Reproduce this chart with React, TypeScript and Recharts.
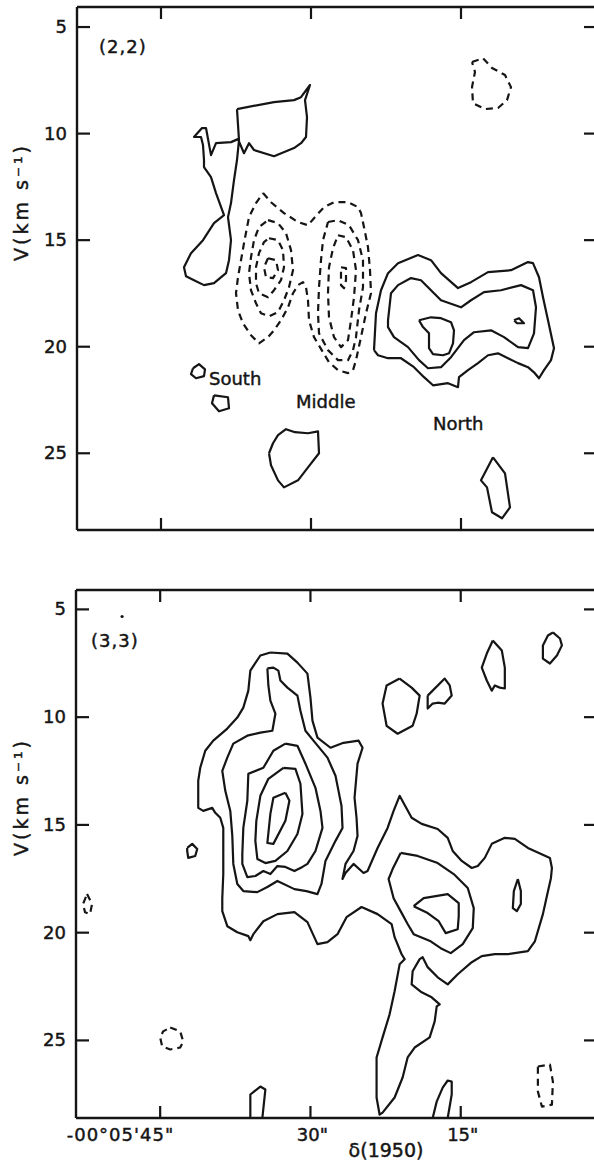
import React from "react";
import { LineChart, Line, XAxis, YAxis, ReferenceDot } from "recharts";

// contour paths: [offset in arcsec from -00°05', velocity km/s]
// ---- upper panel (2,2) ----
const southFanA = [
  [37.4, 8.85], [37.2, 10.31], [37.4, 11.24], [37.7, 12.18], [38.0, 13.26], [38.3, 13.92], [38.0, 15.0],
  [38.2, 15.94], [38.5, 16.55], [39.7, 17.02], [40.7, 17.11], [41.7, 16.88], [42.5, 16.69], [42.7, 16.27],
  [42.0, 15.61], [40.8, 15.0], [39.7, 14.2], [38.7, 13.83], [39.5, 12.79], [40.0, 12.04], [40.7, 11.57],
  [40.7, 11.24], [40.8, 10.54], [41.0, 10.16], [41.7, 10.16], [40.9, 9.74], [40.5, 9.74], [40.0, 11.01],
  [39.5, 10.45], [38.0, 10.4], [37.3, 10.26], [36.7, 10.92], [36.2, 10.45], [35.7, 10.77], [33.7, 11.06],
  [31.7, 10.68], [31.0, 10.45], [30.5, 10.16], [30.4, 9.23], [30.6, 8.43], [30.1, 7.72], [31.0, 8.29],
  [31.7, 8.43], [33.7, 8.52], [37.4, 8.85],
];
const southDotA1 = [[41.8, 21.01], [41.2, 20.82], [40.6, 21.06], [40.7, 21.38], [41.5, 21.48], [42.0, 21.29], [41.8, 21.01]];
const southDotA2 = [[39.7, 22.28], [38.3, 22.37], [38.2, 22.89], [39.2, 23.03], [39.9, 22.65], [39.7, 22.28]];
const middleLowA = [
  [34.2, 25.0], [33.8, 24.53], [33.3, 24.15], [32.5, 23.87], [31.6, 24.01], [30.3, 24.06], [29.3, 23.97],
  [29.2, 25.0], [30.3, 25.66], [31.3, 26.27], [32.7, 26.6], [33.3, 26.27], [34.0, 25.56], [34.2, 25.0],
];
const northLowA = [[11.8, 25.19], [10.6, 25.94], [10.1, 27.54], [10.9, 28.05], [11.9, 27.77], [12.4, 26.6], [13.0, 26.27], [11.8, 25.19]];
const negNE_A = [
  [13.9, 6.64], [12.8, 6.46], [11.9, 6.92], [10.6, 7.25], [10.0, 7.82], [10.4, 8.43], [11.3, 8.8],
  [12.6, 8.85], [13.8, 8.57], [13.9, 7.82], [13.6, 7.11], [13.9, 6.64],
];
const northOuterA = [
  [23.7, 20.16], [23.5, 18.43], [23.0, 17.35], [22.3, 16.55], [21.3, 16.08], [19.3, 15.7], [18.0, 15.94],
  [17.0, 16.55], [15.3, 17.25], [14.0, 16.97], [12.3, 16.5], [10.0, 16.41], [8.3, 16.03], [7.8, 16.08],
  [7.2, 16.74], [6.8, 17.68], [6.3, 18.76], [5.7, 20.07], [6.0, 20.63], [6.7, 21.1], [7.2, 21.48],
  [7.7, 21.2], [8.3, 20.96], [9.3, 20.77], [10.3, 20.54], [11.3, 20.31], [12.3, 20.4], [13.3, 20.77],
  [14.3, 21.1], [15.2, 21.43], [15.3, 21.9], [16.3, 21.71], [17.8, 21.81], [18.7, 21.43], [19.7, 20.96],
  [21.0, 20.54], [22.3, 20.54], [23.3, 20.4], [23.7, 20.16],
];
const northMidA = [
  [22.3, 18.76], [22.0, 17.49], [21.3, 17.11], [20.0, 16.78], [19.0, 16.88], [18.0, 17.35], [17.0, 17.82],
  [15.0, 18.15], [14.0, 17.82], [12.7, 17.44], [11.0, 17.35], [9.0, 17.11], [7.8, 17.35], [7.5, 18.15],
  [7.7, 19.37], [8.3, 20.07], [9.3, 20.02], [10.7, 19.55], [12.0, 19.23], [13.7, 19.32], [14.7, 19.69],
  [16.0, 20.49], [17.0, 20.96], [18.3, 21.01], [19.2, 20.63], [20.3, 20.02], [21.7, 19.55], [22.3, 19.08],
  [22.3, 18.76],
];
const northInnerA = [
  [19.2, 18.76], [18.0, 18.62], [17.0, 18.66], [16.0, 18.85], [15.7, 19.23], [15.8, 19.84], [16.2, 20.31],
  [16.8, 20.4], [17.8, 20.35], [18.2, 20.07], [18.2, 19.37], [18.8, 19.08], [19.2, 18.76],
];
const northPeakA = [[9.7, 18.76], [9.2, 18.66], [8.7, 18.9], [9.4, 18.9], [9.7, 18.76]];
const negOuterA = [
  [34.8, 12.79], [34.0, 13.22], [32.7, 13.73], [31.3, 14.15], [30.3, 14.3], [29.7, 13.97], [28.7, 13.45],
  [27.7, 13.22], [26.3, 13.22], [25.3, 13.45], [25.0, 13.73], [24.7, 14.39], [24.3, 15.33], [24.1, 16.41],
  [24.0, 17.49], [24.5, 18.43], [25.0, 19.55], [25.5, 20.63], [25.8, 21.1], [26.3, 21.24], [27.3, 21.1],
  [28.2, 20.73], [28.8, 20.26], [29.7, 19.55], [30.2, 18.76], [30.3, 17.82], [30.5, 17.21], [30.8, 16.97],
  [31.3, 17.11], [31.8, 17.49], [32.3, 18.15], [33.0, 18.76], [33.7, 19.23], [34.3, 19.55], [35.2, 19.84],
  [36.0, 19.46], [36.8, 18.9], [37.3, 18.29], [37.5, 17.49], [37.3, 16.74], [37.0, 15.94], [36.7, 15.14],
  [36.2, 13.92], [35.5, 13.26], [34.8, 12.79],
];
const negSouth2A = [
  [34.3, 14.06], [33.3, 14.2], [32.5, 14.67], [32.0, 15.47], [31.8, 16.41], [32.2, 17.21], [32.7, 17.82],
  [33.3, 18.38], [34.2, 18.57], [35.0, 18.43], [35.5, 17.96], [36.0, 17.35], [36.2, 16.55], [36.0, 15.8],
  [35.7, 15.0], [35.2, 14.39], [34.3, 14.06],
];
const negSouth3A = [
  [34.2, 14.91], [33.3, 15.0], [32.8, 15.47], [32.7, 16.27], [33.0, 16.88], [33.7, 17.35], [34.3, 17.68],
  [35.2, 17.49], [35.5, 17.02], [35.5, 16.27], [35.2, 15.61], [34.7, 15.09], [34.2, 14.91],
];
const negSouth4A = [[34.3, 15.85], [33.5, 15.94], [33.3, 16.41], [33.8, 16.78], [34.5, 16.74], [34.7, 16.27], [34.3, 15.85]];
const negMiddle2A = [
  [28.3, 14.15], [27.3, 14.06], [26.2, 14.3], [25.3, 15.0], [24.8, 15.94], [24.8, 17.21], [25.2, 18.29],
  [25.5, 19.55], [25.8, 20.16], [26.3, 20.63], [27.3, 20.63], [28.3, 20.16], [29.2, 19.37], [29.3, 18.43],
  [29.2, 17.21], [29.0, 15.94], [28.8, 15.0], [28.3, 14.15],
];
const negMiddle3A = [
  [27.3, 14.77], [26.5, 14.86], [25.8, 15.47], [25.5, 16.41], [25.7, 17.68], [26.0, 18.76], [26.3, 19.69],
  [27.0, 20.02], [27.7, 19.55], [28.2, 18.62], [28.3, 17.49], [28.2, 16.27], [27.8, 15.38], [27.3, 14.77],
];
const negMiddle4A = [[27.0, 16.27], [26.5, 16.31], [26.5, 16.88], [26.7, 17.25], [27.0, 17.11], [27.0, 16.55], [27.0, 16.27]];

// ---- lower panel (3,3) ----
const outerB = [
  [34.0, 7.0], [32.3, 7.05], [31.3, 7.47], [30.3, 7.98], [30.0, 9.09], [29.8, 10.16], [29.3, 10.95],
  [28.0, 11.42], [26.7, 11.19], [25.2, 11.09], [24.8, 11.42], [25.3, 12.16], [25.6, 13.74], [25.4, 14.67],
  [25.3, 15.51], [25.7, 16.21], [26.5, 16.81], [26.8, 17.51], [26.5, 17.23], [25.7, 16.81], [24.7, 17.23],
  [24.3, 17.14], [23.3, 16.07], [22.3, 15.14], [21.7, 14.35], [21.1, 13.65], [19.9, 14.67], [18.9, 14.95],
  [17.3, 15.19], [16.3, 15.6], [15.8, 16.21], [14.9, 16.67], [13.9, 17.0], [13.3, 16.91], [12.6, 16.53],
  [11.9, 15.88], [10.6, 15.6], [9.6, 15.65], [8.3, 16.07], [6.1, 16.53], [5.9, 17.0], [6.0, 17.47],
  [6.4, 18.3], [6.8, 19.14], [7.6, 20.4], [8.3, 20.86], [10.3, 21.0], [11.6, 21.0], [12.9, 21.09],
  [13.9, 21.37], [15.3, 21.93], [16.3, 22.4], [17.3, 22.07], [18.3, 21.6], [18.8, 21.14], [19.1, 21.23],
  [19.8, 21.79], [19.9, 22.4], [18.9, 22.77], [17.9, 23.0], [17.1, 23.33], [17.4, 23.42], [17.6, 24.12],
  [18.1, 24.86], [19.6, 25.33], [20.3, 25.79], [20.8, 26.72], [21.6, 27.65], [22.8, 28.35], [23.1, 28.44],
  [23.4, 27.65], [23.4, 26.91], [23.4, 25.79], [22.8, 24.86], [22.1, 23.79], [21.6, 22.72], [21.1, 21.47],
  [20.6, 21.23], [20.9, 21.0], [21.6, 20.21], [21.9, 19.6], [23.3, 19.14], [24.9, 18.81], [26.4, 19.28],
  [27.3, 20.07], [28.3, 20.44], [29.3, 20.53], [30.3, 19.51], [31.6, 19.05], [33.3, 19.14], [34.7, 19.47],
  [35.7, 20.07], [36.0, 20.35], [36.2, 20.16], [37.3, 19.98], [38.3, 19.7], [38.8, 19.0], [38.8, 18.4],
  [38.7, 17.28], [38.7, 16.07], [38.7, 15.14], [39.0, 14.67], [39.5, 14.44], [39.8, 14.21], [40.7, 14.35],
  [41.2, 14.21], [41.2, 12.95], [41.0, 12.35], [40.5, 11.56], [39.7, 11.09], [38.3, 10.53], [37.3, 10.02],
  [36.7, 9.56], [36.2, 8.77], [36.0, 7.84], [35.0, 7.14], [34.0, 7.0],
];
const level2B = [
  [34.3, 7.74], [33.7, 7.7], [33.2, 7.84], [33.0, 8.3], [32.3, 8.63], [31.3, 9.0], [31.0, 9.7], [30.5, 10.63],
  [29.7, 11.09], [28.3, 11.88], [27.5, 12.72], [27.2, 13.42], [26.9, 14.12], [26.8, 15.14], [27.5, 15.74],
  [28.5, 16.67], [28.9, 17.74], [29.3, 18.21], [30.4, 18.07], [31.6, 17.98], [33.3, 17.6], [34.3, 17.88],
  [35.3, 18.12], [36.7, 18.07], [37.3, 17.74], [37.7, 16.81], [37.8, 15.51], [38.0, 14.35], [38.5, 13.42],
  [38.8, 12.49], [38.3, 11.88], [37.7, 11.23], [36.3, 10.86], [35.0, 10.72], [33.8, 10.63], [33.5, 9.84],
  [34.0, 9.23], [34.2, 8.53], [34.3, 7.74],
];
const level3B = [
  [32.5, 11.23], [31.3, 11.33], [30.5, 12.16], [29.5, 13.28], [29.0, 14.35], [28.8, 15.14], [29.5, 16.21],
  [30.3, 16.81], [30.8, 16.95], [31.6, 17.14], [32.5, 16.95], [33.3, 16.91], [34.0, 17.28], [34.7, 17.14],
  [35.5, 17.37], [36.3, 17.42], [36.8, 16.81], [36.8, 16.35], [36.7, 15.14], [36.3, 13.88], [36.2, 12.63],
  [34.7, 12.35], [33.7, 11.56], [32.5, 11.23],
];
const level4B = [
  [32.7, 12.35], [31.5, 12.4], [31.0, 13.09], [30.8, 14.49], [31.3, 15.42], [32.3, 16.21], [33.5, 16.67],
  [34.5, 16.77], [35.3, 16.58], [35.5, 15.74], [35.4, 14.81], [35.0, 13.65], [34.2, 12.86], [32.7, 12.35],
];
const level5B = [[32.5, 13.51], [32.1, 13.88], [32.5, 14.81], [33.7, 15.88], [34.3, 15.84], [34.0, 14.49], [33.7, 13.74], [32.5, 13.51]];
const northRingB = [
  [21.0, 16.3], [19.3, 16.44], [17.3, 16.77], [15.7, 17.28], [14.3, 17.93], [13.7, 18.86], [13.8, 19.79],
  [14.8, 20.53], [16.0, 20.95], [17.0, 20.72], [18.0, 20.4], [19.7, 20.07], [20.3, 19.6], [21.0, 19.0],
  [21.7, 18.4], [22.2, 17.51], [21.8, 17.05], [21.0, 16.3],
];
const northCoreB = [
  [19.7, 18.77], [18.7, 18.4], [16.3, 18.21], [15.2, 18.63], [15.2, 19.23], [15.3, 19.84], [16.5, 20.02],
  [17.2, 19.47], [18.3, 19.09], [19.7, 18.77],
];
const eastPeakB = [[9.3, 17.51], [9.0, 18.07], [9.0, 18.67], [9.4, 19.0], [9.8, 18.86], [9.7, 18.07], [9.3, 17.51]];
const cloudB1 = [[21.1, 8.21], [19.9, 8.63], [19.1, 9.0], [19.4, 9.84], [19.8, 10.4], [21.3, 10.77], [22.4, 10.4], [22.8, 9.37], [22.4, 8.53], [21.1, 8.21]];
const cloudB2 = [[18.3, 9.0], [16.6, 8.21], [16.1, 8.53], [15.9, 9.0], [16.6, 9.37], [17.3, 9.33], [17.8, 9.37], [18.3, 9.6], [18.3, 9.0]];
const cloudB3 = [[11.8, 6.44], [10.9, 6.91], [10.6, 7.7], [10.6, 8.67], [11.1, 8.63], [11.6, 8.53], [11.9, 8.77], [12.4, 8.3], [12.9, 7.7], [12.4, 7.05], [11.8, 6.44]];
const cloudB4 = [[5.8, 6.07], [5.1, 6.35], [4.9, 6.67], [5.4, 7.14], [6.1, 7.51], [6.8, 7.28], [6.8, 6.67], [6.3, 6.21], [5.8, 6.07]];
const westDotB = [[42.3, 16.07], [41.8, 15.88], [41.3, 16.12], [41.5, 16.44], [42.2, 16.53], [42.3, 16.21], [42.3, 16.07]];
const lowStubB = [[36.0, 28.6], [36.0, 27.51], [35.0, 27.14], [34.5, 27.28], [34.8, 28.6]];
const lowSpikeB = [[17.8, 28.6], [17.4, 27.84], [16.8, 27.19], [16.3, 26.86], [15.9, 26.91], [15.9, 27.51], [16.3, 28.6]];
const negWestB = [[52.3, 18.21], [51.8, 18.67], [52.0, 19.14], [52.5, 19.05], [52.7, 18.67], [52.3, 18.21]];
const negLowB = [[44.0, 24.4], [43.0, 24.58], [42.7, 25.05], [43.0, 25.33], [44.0, 25.42], [44.8, 25.28], [45.0, 24.86], [44.7, 24.58], [44.0, 24.4]];
const negEastB = [[7.3, 26.21], [6.1, 26.12], [5.8, 26.91], [5.9, 27.98], [6.9, 28.07], [7.3, 27.37], [7.3, 26.21]];
const markB = [48.8, 5.33];

const X_TICKS = [45, 30, 15];
const V_TICKS = [5, 10, 15, 20, 25];
const X_LABELS: Record<number, string> = { 45: "-00°05'45\"", 30: '30"', 15: '15"' };

const INK = "#151515";
const FONT = "'DejaVu Sans', sans-serif";
const X_DOMAIN: [number, number] = [1.4, 53.4];

type Contour = { pts: number[][]; dash?: boolean };
const rows = (pts: number[][]) => pts.map(([x, v]) => ({ x, v }));

const panelA: Contour[] = [
  { pts: southFanA }, { pts: southDotA1 }, { pts: southDotA2 }, { pts: middleLowA }, { pts: northLowA },
  { pts: northOuterA }, { pts: northMidA }, { pts: northInnerA }, { pts: northPeakA },
  { pts: negNE_A, dash: true }, { pts: negOuterA, dash: true }, { pts: negSouth2A, dash: true },
  { pts: negSouth3A, dash: true }, { pts: negSouth4A, dash: true }, { pts: negMiddle2A, dash: true },
  { pts: negMiddle3A, dash: true }, { pts: negMiddle4A, dash: true },
];
const panelB: Contour[] = [
  { pts: outerB }, { pts: level2B }, { pts: level3B }, { pts: level4B }, { pts: level5B },
  { pts: northRingB }, { pts: northCoreB }, { pts: eastPeakB }, { pts: cloudB1 }, { pts: cloudB2 },
  { pts: cloudB3 }, { pts: cloudB4 }, { pts: westDotB }, { pts: lowStubB }, { pts: lowSpikeB },
  { pts: negWestB, dash: true }, { pts: negLowB, dash: true }, { pts: negEastB, dash: true },
];

const axisLine = { stroke: INK, strokeWidth: 2.4 };
// a hair of stroke makes the type as heavy as the printed figure
const ink = { fontFamily: FONT, fill: INK, stroke: INK, strokeWidth: 0.45 };

function Panel(props: {
  contours: Contour[];
  vDomain: [number, number];
  height: number;
  bottomH: number;
  leftW: number;
  labelled: boolean;
  mark?: number[];
}) {
  const { contours, vDomain, height, bottomH, leftW, labelled, mark } = props;

  const leftTick = (p: any) => (
    <g>
      <line x1={p.x} x2={p.x + 13} y1={p.y} y2={p.y} stroke={INK} strokeWidth={2.2} />
      <text x={p.x - 10} y={p.y} dy={6} textAnchor="end" fontSize={18} {...ink}>
        {p.payload.value}
      </text>
    </g>
  );
  const rightTick = (p: any) => (
    <line x1={p.x} x2={p.x - 13} y1={p.y} y2={p.y} stroke={INK} strokeWidth={2.2} />
  );
  const topTick = (p: any) => (
    <line x1={p.x} x2={p.x} y1={p.y} y2={p.y + 12} stroke={INK} strokeWidth={2.2} />
  );
  const bottomTick = (p: any) => {
    const v = p.payload.value as number;
    return (
      <g>
        <line x1={p.x} x2={p.x} y1={p.y} y2={p.y - 12} stroke={INK} strokeWidth={2.2} />
        {labelled && (
          <text
            x={v === 45 ? p.x + 14 : p.x + 2}
            y={p.y + 23}
            textAnchor={v === 45 ? "end" : "middle"}
            fontSize={18}
            letterSpacing={v === 45 ? 1 : 0}
            {...ink}
          >
            {X_LABELS[v]}
          </text>
        )}
      </g>
    );
  };

  return (
    <LineChart width={620} height={height} margin={{ top: 0, right: 0, bottom: 0, left: 0 }}>
      <XAxis
        xAxisId="b"
        dataKey="x"
        type="number"
        domain={X_DOMAIN}
        reversed
        allowDataOverflow
        ticks={X_TICKS}
        interval={0}
        height={bottomH}
        tickSize={0}
        tickMargin={0}
        tickLine={false}
        axisLine={axisLine}
        tick={bottomTick}
      />
      <XAxis
        xAxisId="t"
        orientation="top"
        dataKey="x"
        type="number"
        domain={X_DOMAIN}
        reversed
        allowDataOverflow
        ticks={X_TICKS}
        interval={0}
        height={7}
        tickSize={0}
        tickMargin={0}
        tickLine={false}
        axisLine={axisLine}
        tick={topTick}
      />
      <YAxis
        yAxisId="l"
        dataKey="v"
        type="number"
        domain={vDomain}
        reversed
        allowDataOverflow
        ticks={V_TICKS}
        interval={0}
        width={leftW}
        tickSize={0}
        tickMargin={0}
        tickLine={false}
        axisLine={axisLine}
        tick={leftTick}
      />
      <YAxis
        yAxisId="r"
        orientation="right"
        dataKey="v"
        type="number"
        domain={vDomain}
        reversed
        allowDataOverflow
        ticks={V_TICKS}
        interval={0}
        width={23}
        tickSize={0}
        tickMargin={0}
        tickLine={false}
        axisLine={axisLine}
        tick={rightTick}
      />
      <Line
        data={rows(contours[0].pts)}
        xAxisId="t"
        yAxisId="r"
        dataKey="v"
        stroke="none"
        dot={false}
        isAnimationActive={false}
      />
      {contours.map((c, i) => (
        <Line
          key={i}
          data={rows(c.pts)}
          xAxisId="b"
          yAxisId="l"
          dataKey="v"
          type="linear"
          stroke={INK}
          strokeWidth={2.2}
          strokeDasharray={c.dash ? "7 5" : undefined}
          strokeLinejoin="round"
          dot={false}
          activeDot={false}
          isAnimationActive={false}
        />
      ))}
      {mark && (
        <ReferenceDot xAxisId="b" yAxisId="l" x={mark[0]} y={mark[1]} r={1.6} fill={INK} stroke="none" />
      )}
    </LineChart>
  );
}

export default function App() {
  return (
    <div
      style={{
        position: "absolute",
        left: 0,
        top: 0,
        width: 594,
        height: 1163,
        overflow: "hidden",
        background: "#fff",
        fontFamily: FONT,
      }}
    >
      <div style={{ position: "absolute", left: 0, top: 0 }}>
        <Panel contours={panelA} vDomain={[4.06, 28.6]} height={560} bottomH={30} leftW={77} labelled={false} />
      </div>
      <div style={{ position: "absolute", left: 0, top: 583 }}>
        <Panel
          contours={panelB}
          vDomain={[4.1, 28.6]}
          height={580}
          bottomH={45}
          leftW={76}
          labelled
          mark={markB}
        />
      </div>
      <svg
        width={594}
        height={1163}
        style={{ position: "absolute", left: 0, top: 0, pointerEvents: "none" }}
      >
        <text x={99} y={53} fontSize={18} letterSpacing={1} {...ink}>(2,2)</text>
        <text x={209} y={385} fontSize={18} {...ink}>South</text>
        <text x={296} y={408} fontSize={18} {...ink}>Middle</text>
        <text x={433} y={430} fontSize={18} {...ink}>North</text>
        <text x={91} y={647} fontSize={18} letterSpacing={1} {...ink}>(3,3)</text>
        <text transform="translate(28,202) rotate(-90)" textAnchor="middle" fontSize={19} letterSpacing={3} {...ink}>
          V(km s⁻¹)
        </text>
        <text transform="translate(28,797) rotate(-90)" textAnchor="middle" fontSize={19} letterSpacing={3} {...ink}>
          V(km s⁻¹)
        </text>
        <text x={386} y={1157} textAnchor="middle" fontSize={19} {...ink}>δ(1950)</text>
      </svg>
    </div>
  );
}
